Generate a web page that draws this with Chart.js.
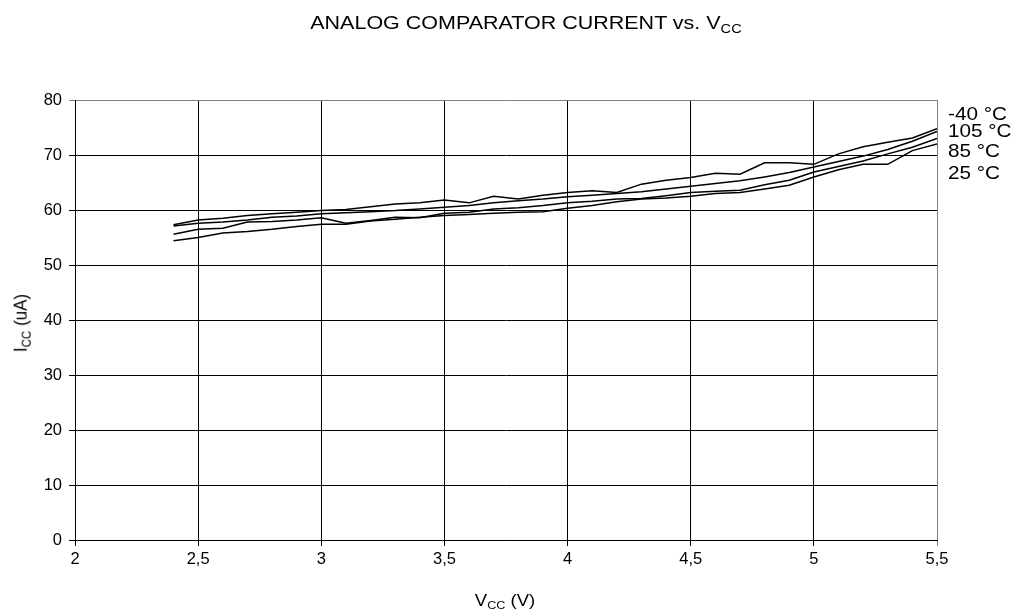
<!DOCTYPE html>
<html>
<head>
<meta charset="utf-8">
<script src="https://cdn.jsdelivr.net/npm/chart.js@4.4.1/dist/chart.umd.min.js"></script>
<style>
  body { margin: 0; background: #fff; }
  #wrap { position: relative; width: 1024px; height: 616px; font-family: "Liberation Sans", Arial, sans-serif; color: #000; }
  .lbl { position: absolute; white-space: nowrap; line-height: 1; }
  .sub { font-size: 0.68em; vertical-align: -0.3em; }
</style>
</head>
<body>
<div id="wrap">
  <canvas id="chart" width="1024" height="616"></canvas>
  <div class="lbl" style="left:526px;top:13px;font-size:19.2px;transform:translateX(-50%) scaleX(1.12);">ANALOG COMPARATOR CURRENT vs. V<span class="sub">CC</span></div>
  <div class="lbl" style="left:505px;top:592px;font-size:16.5px;transform:translateX(-50%) scaleX(1.12);">V<span class="sub">CC</span> (V)</div>
  <div class="lbl" style="left:22px;top:323px;font-size:17px;transform:translate(-50%,-50%) rotate(-90deg) scaleY(1.12);">I<span class="sub">CC</span> (uA)</div>
  <div class="lbl" style="left:948px;top:105px;font-size:18.5px;transform-origin:left;transform:scaleX(1.12);">-40 °C</div>
  <div class="lbl" style="left:948px;top:122px;font-size:18.5px;transform-origin:left;transform:scaleX(1.12);">105 °C</div>
  <div class="lbl" style="left:948px;top:142px;font-size:18.5px;transform-origin:left;transform:scaleX(1.12);">85 °C</div>
  <div class="lbl" style="left:948px;top:164px;font-size:18.5px;transform-origin:left;transform:scaleX(1.12);">25 °C</div>
</div>
<script>
// supply voltage (V)
const vcc = [2.4, 2.5, 2.6, 2.7, 2.8, 2.9, 3.0, 3.1, 3.2, 3.3, 3.4, 3.5, 3.6, 3.7, 3.8, 3.9,
             4.0, 4.1, 4.2, 4.3, 4.4, 4.5, 4.6, 4.7, 4.8, 4.9, 5.0, 5.1, 5.2, 5.3, 5.4, 5.5];

// Icc (uA) per temperature
const tMinus40 = [57.3, 58.2, 58.5, 59.0, 59.3, 59.6, 59.9, 60.1, 60.6, 61.1, 61.3, 61.8, 61.3, 62.5, 62.0, 62.7,
                  63.2, 63.5, 63.2, 64.7, 65.4, 65.9, 66.7, 66.5, 68.6, 68.6, 68.3, 70.2, 71.5, 72.3, 73.1, 74.8];
const t105 = [57.1, 57.6, 57.8, 58.2, 58.7, 58.9, 59.3, 59.5, 59.7, 59.9, 60.2, 60.5, 60.8, 61.3, 61.7, 62.0,
              62.4, 62.7, 63.0, 63.3, 63.8, 64.3, 64.8, 65.3, 66.0, 66.8, 67.8, 68.8, 69.8, 71.0, 72.5, 74.3];
const t85 = [55.6, 56.5, 56.7, 57.8, 57.9, 58.2, 58.6, 57.6, 58.1, 58.7, 58.6, 59.4, 59.6, 60.2, 60.4, 60.8,
             61.3, 61.6, 62.0, 62.1, 62.6, 63.2, 63.4, 63.6, 64.6, 65.4, 66.9, 67.9, 68.9, 70.2, 71.4, 73.0];
const t25 = [54.4, 55.0, 55.8, 56.1, 56.5, 57.0, 57.4, 57.4, 58.0, 58.3, 58.7, 59.0, 59.2, 59.4, 59.6, 59.7,
             60.3, 60.8, 61.5, 62.0, 62.2, 62.5, 63.0, 63.2, 63.8, 64.5, 66.0, 67.3, 68.3, 68.3, 70.8, 72.0];

const seriesNames = ['-40 °C', '105 °C', '85 °C', '25 °C'];
const seriesData = [tMinus40, t105, t85, t25];

const tickFont = { family: 'Liberation Sans', size: 16.5 };

new Chart(document.getElementById('chart'), {
    type: 'line',
    data: {
        datasets: seriesData.map((arr, k) => ({
            label: seriesNames[k],
            data: vcc.map((v, i) => ({ x: v, y: arr[i] })),
            borderColor: '#000',
            borderWidth: 1.5,
            pointRadius: 0,
            fill: false,
            tension: 0
        }))
    },
    options: {
        responsive: false,
        animation: false,
        layout: { padding: { top: 100, right: 87, left: 0, bottom: 0 } },
        plugins: { legend: { display: false }, tooltip: { enabled: false } },
        scales: {
            x: {
                type: 'linear',
                min: 2,
                max: 5.5,
                afterFit: (s) => { s.height = 76; },
                ticks: {
                    stepSize: 0.5,
                    color: '#000',
                    font: tickFont,
                    padding: 4,
                    maxRotation: 0,
                    callback: (v) => String(v).replace('.', ',')
                },
                grid: {
                    color: (c) => (c.tick && c.tick.value === 5.5 ? '#808080' : '#000'),
                    lineWidth: 1,
                    tickLength: 6
                },
                border: { color: '#000', width: 1 }
            },
            y: {
                min: 0,
                max: 80,
                afterFit: (s) => { s.width = 75; },
                ticks: { stepSize: 10, color: '#000', font: tickFont, padding: 7 },
                grid: {
                    color: (c) => (c.tick && c.tick.value === 80 ? '#808080' : '#000'),
                    lineWidth: 1,
                    tickLength: 6
                },
                border: { color: '#000', width: 1 }
            }
        }
    }
});
</script>
</body>
</html>
